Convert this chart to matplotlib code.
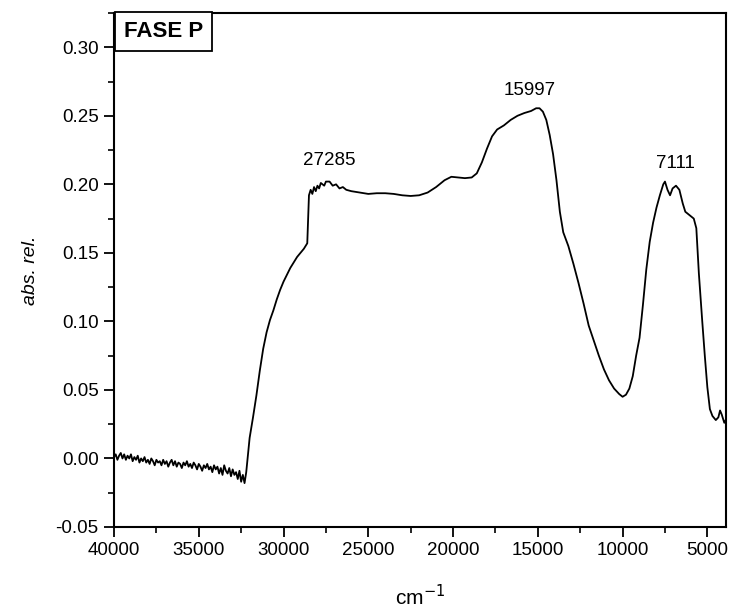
import matplotlib
matplotlib.use("Agg")
import matplotlib.pyplot as plt
from matplotlib.ticker import MultipleLocator, FormatStrFormatter

plt.rcParams['font.family'] = ['Liberation Sans', 'DejaVu Sans']

# Noisy baseline, sampled every 100 cm^-1 from 40000 down to 32300
baseline_wavenumber = list(range(40000, 32200, -100))
baseline_absorbance = [
    0.001, 0.003, -0.001, 0.002, 0.004, 0.000, 0.003, -0.001, 0.002, 0.000,
    0.003, -0.002, 0.001, -0.001, 0.002, -0.003, 0.000, -0.002, 0.001, -0.003,
    -0.001, -0.004, 0.000, -0.002, -0.005, -0.001, -0.003, -0.002, -0.005, -0.001,
    -0.004, -0.002, -0.006, -0.003, -0.001, -0.005, -0.002, -0.006, -0.003, -0.004,
    -0.007, -0.003, -0.005, -0.002, -0.006, -0.004, -0.007, -0.003, -0.005, -0.008,
    -0.004, -0.006, -0.009, -0.005, -0.007, -0.004, -0.008, -0.006, -0.010, -0.005,
    -0.008, -0.006, -0.011, -0.007, -0.012, -0.005, -0.009, -0.011, -0.007, -0.013,
    -0.008, -0.012, -0.010, -0.015, -0.009, -0.017, -0.012, -0.018,
]

# Absorption bands, wavenumber in cm^-1 (descending) and relative absorbance
band_wavenumber = [
    32200,
    32000, 31800, 31600, 31400, 31200, 31000, 30800, 30600, 30400, 30200,
    30000, 29800, 29600, 29400, 29200, 29000, 28800, 28600, 28550, 28500,
    28400, 28300, 28200, 28100, 28000, 27900, 27800, 27600, 27500, 27285,
    27100, 26900, 26700, 26500, 26300, 26000, 25500, 25000, 24500, 24000,
    23500, 23000, 22500, 22000, 21500, 21000, 20500, 20100, 19700, 19300,
    18900, 18600, 18300, 18000, 17700, 17400, 17000, 16600, 16200, 15800,
    15400, 15100, 14900, 14700, 14500, 14300, 14100, 13900, 13700, 13500,
    13200, 12900, 12600, 12300, 12000, 11700, 11400, 11100, 10800, 10500,
    10200, 10000, 9800, 9600, 9400, 9200, 9000, 8800, 8600, 8400,
    8200, 8000, 7800, 7600, 7500, 7350, 7200, 7050, 6850, 6650,
    6450, 6300, 6000, 5800, 5650, 5500, 5300, 5150, 5000, 4850,
    4700, 4500, 4350, 4250, 4150, 4000, 3920,
]
band_absorbance = [
    -0.010,
    0.015, 0.030, 0.046, 0.064, 0.080, 0.092, 0.101, 0.108, 0.116, 0.123,
    0.129, 0.134, 0.139, 0.143, 0.147, 0.150, 0.153, 0.157, 0.175, 0.192,
    0.196, 0.193, 0.198, 0.195, 0.199, 0.197, 0.201, 0.199, 0.202, 0.202,
    0.199, 0.200, 0.197, 0.198, 0.196, 0.195, 0.194, 0.193, 0.1935, 0.1935,
    0.193, 0.192, 0.1915, 0.192, 0.194, 0.198, 0.203, 0.2055, 0.205, 0.2045,
    0.205, 0.208, 0.216, 0.226, 0.235, 0.240, 0.243, 0.247, 0.250, 0.252,
    0.2535, 0.2555, 0.2555, 0.253, 0.247, 0.236, 0.222, 0.203, 0.180, 0.165,
    0.155, 0.142, 0.128, 0.113, 0.097, 0.086, 0.075, 0.065, 0.057, 0.051,
    0.047, 0.045, 0.0465, 0.051, 0.060, 0.075, 0.088, 0.112, 0.138, 0.158,
    0.172, 0.183, 0.192, 0.200, 0.202, 0.196, 0.192, 0.197, 0.199, 0.196,
    0.186, 0.180, 0.177, 0.175, 0.168, 0.135, 0.100, 0.075, 0.052, 0.036,
    0.031, 0.028, 0.030, 0.035, 0.032, 0.026, 0.028,
]

wavenumber = baseline_wavenumber + band_wavenumber
absorbance = baseline_absorbance + band_absorbance

# Peak annotations: position (cm^-1), label height, label shift
peak_positions = [27285, 15997, 7111]
peak_label_y = [0.211, 0.262, 0.209]
peak_label_dx = [0, 500, 200]

fig = plt.figure(figsize=(7.36, 6.10), dpi=100)
ax = fig.add_axes([0.1549, 0.1361, 0.8315, 0.8426])

ax.plot(wavenumber, absorbance, color='black', lw=1.3)

for pos, ly, dx in zip(peak_positions, peak_label_y, peak_label_dx):
    ax.text(pos - dx, ly, str(pos), ha='center', va='bottom', fontsize=13.5)

ax.set_xlim(40000, 3900)
ax.set_ylim(-0.05, 0.325)

ax.xaxis.set_major_locator(MultipleLocator(5000))
ax.xaxis.set_minor_locator(MultipleLocator(2500))
ax.yaxis.set_major_locator(MultipleLocator(0.05))
ax.yaxis.set_minor_locator(MultipleLocator(0.025))
ax.yaxis.set_major_formatter(FormatStrFormatter('%.2f'))

ax.tick_params(which='major', direction='out', length=7, width=1.3,
               labelsize=13.5, top=False, right=False, pad=4)
ax.tick_params(which='minor', direction='out', length=4, width=1.2,
               top=False, right=False)
for sp in ax.spines.values():
    sp.set_linewidth(1.5)

ax.set_xlabel('cm$^{\\mathrm{-1}}$', fontsize=15, labelpad=18)
ax.set_ylabel('abs. rel.', fontsize=14, style='italic', labelpad=12)

ax.text(0.016, 0.985, 'FASE P', transform=ax.transAxes, ha='left', va='top',
        fontsize=16, fontweight='bold',
        bbox=dict(boxstyle='square,pad=0.4', facecolor='white',
                  edgecolor='black', linewidth=1.3))

fig.savefig('out.png', dpi=100)
